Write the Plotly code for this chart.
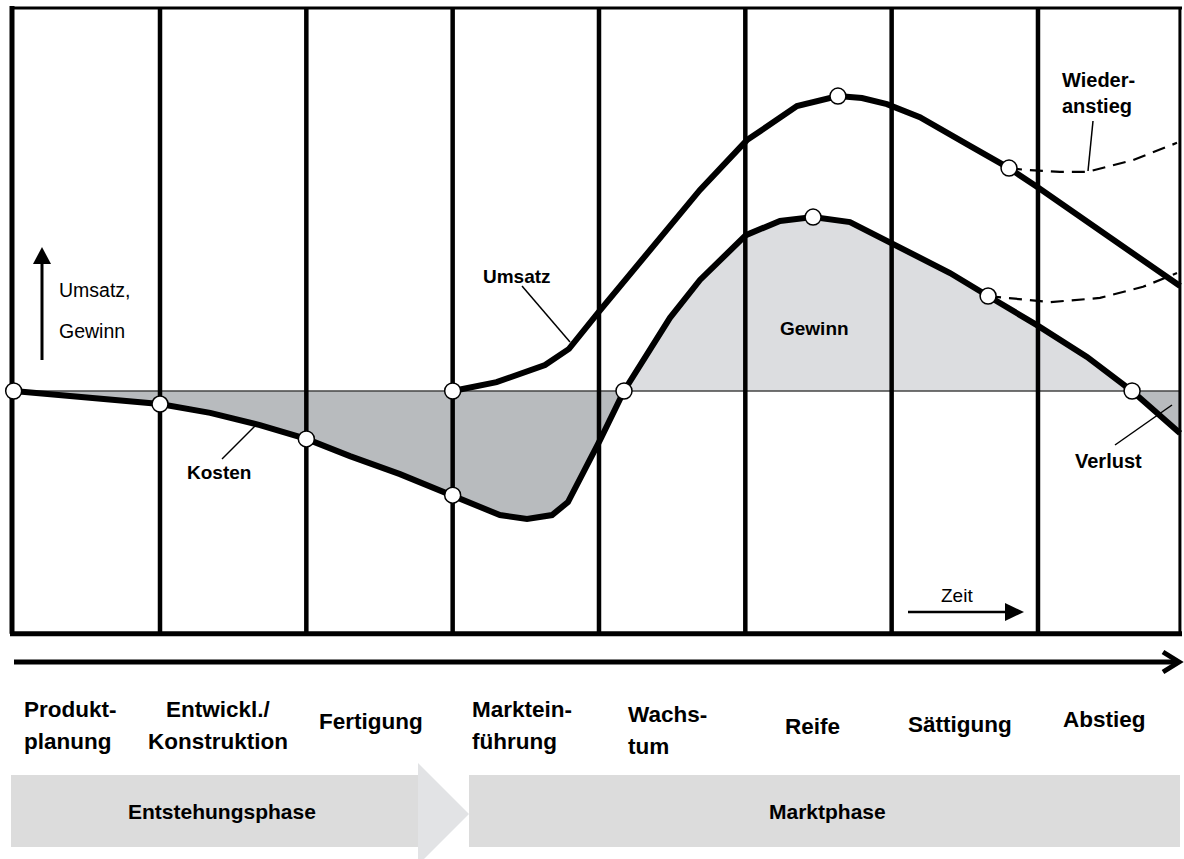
import plotly.graph_objects as go
import numpy as np

# ---------------- data (x in phase units, y in relative value units) ----------------
phase_bounds = [0, 1, 2, 3, 4, 5, 6, 7]
right_edge = 7.97
y_top, y_bottom = 100.0, -63.4

stages = ["Produkt-<br>planung", "Entwickl./<br>Konstruktion", "Fertigung", "Marktein-<br>führung",
          "Wachs-<br>tum", "Reife", "Sättigung", "Abstieg"]
phases = ["Entstehungsphase", "Marktphase"]

# Kosten / Gewinn curve
gew_x = [0.0, 1.0, 1.343, 1.683, 2.0, 2.298, 2.64, 3.0, 3.323, 3.508, 3.679, 3.788, 3.904, 4.007,
         4.171, 4.30, 4.485, 4.69, 5.004, 5.237, 5.463, 5.715, 6.023, 6.399, 6.659, 6.993, 7.335,
         7.643, 7.971]
gew_y = [0.0, -3.4, -5.7, -8.9, -12.5, -17.0, -21.7, -27.2, -32.4, -33.4, -32.4, -29.0, -20.6, -12.8,
         0.0, 7.6, 19.1, 29.0, 40.7, 44.4, 45.4, 44.1, 38.1, 30.8, 24.8, 17.2, 8.9,
         0.0, -11.0]
gew_marks = [0, 1, 4, 7, 14, 20, 24, 27]

# Umsatz curve
ums_x = [3.0, 3.30, 3.631, 3.795, 3.993, 4.35, 4.69, 5.011, 5.353, 5.633, 5.797, 5.968, 6.193,
         6.535, 6.802, 6.993, 7.424, 7.971]
ums_y = [0.0, 2.3, 6.8, 11.0, 20.4, 36.8, 52.5, 65.5, 74.4, 77.0, 76.5, 74.9, 71.5,
         64.0, 58.2, 53.3, 42.0, 27.4]
ums_marks = [0, 9, 14]

# Wiederanstieg (dashed)
wu_x = [6.802, 6.925, 7.15, 7.335, 7.649, 7.95]
wu_y = [58.2, 57.7, 57.2, 57.2, 60.3, 64.8]
wg_x = [6.659, 6.788, 7.082, 7.424, 7.718, 7.95]
wg_y = [24.8, 24.3, 23.2, 24.3, 27.2, 30.8]

# ---------------- pixel helpers for decorations ----------------
def X(px):
    return (px - 13.67) / 146.33

def Y(py):
    return (391 - py) / 3.83

FONT = "Liberation Sans, Arial, sans-serif"
BLACK = "#000000"
LIGHT = "#dcdde0"
DARK = "#b8bbbe"

fig = go.Figure()

# fills
gx = np.array(gew_x); gy = np.array(gew_y)
i0 = 14; i1 = 27
fig.add_trace(go.Scatter(x=gx[:i0 + 1], y=gy[:i0 + 1], fill="tozeroy", fillcolor=DARK,
                         mode="none", hoverinfo="skip"))
fig.add_trace(go.Scatter(x=gx[i0:i1 + 1], y=gy[i0:i1 + 1], fill="tozeroy", fillcolor=LIGHT,
                         mode="none", hoverinfo="skip"))
fig.add_trace(go.Scatter(x=gx[i1:], y=gy[i1:], fill="tozeroy", fillcolor=DARK,
                         mode="none", hoverinfo="skip"))

def seg_trace(x0, y0, x1, y1, width, color=BLACK):
    fig.add_trace(go.Scatter(x=[x0, x1], y=[y0, y1], mode="lines",
                             line=dict(color=color, width=width), hoverinfo="skip"))

# zero line (above fills, below curves)
seg_trace(0, 0, right_edge, 0, 1.5, "#444")
# vertical phase lines
for b in phase_bounds[1:]:
    seg_trace(b, y_bottom, b, y_top, 4.5)
# frame
seg_trace(X(12), y_bottom, X(12), Y(6), 5)
seg_trace(X(10), y_top, X(1182), y_top, 3)
seg_trace(X(10), y_bottom, X(1182), y_bottom, 5)
seg_trace(right_edge, y_bottom, right_edge, y_top, 3)

shapes = []
# bottom bands
band_col = "#dcdcdc"
shapes.append(dict(type="rect", x0=X(11), x1=X(418), y0=Y(847), y1=Y(775), fillcolor=band_col, line_width=0, layer="below"))
shapes.append(dict(type="path", path=f"M {X(418)},{Y(763)} L {X(469)},{Y(814)} L {X(418)},{Y(865)} Z",
                   fillcolor="#e2e3e5", line_width=0, layer="below"))
shapes.append(dict(type="rect", x0=X(469), x1=X(1180), y0=Y(847), y1=Y(775), fillcolor=band_col, line_width=0, layer="below"))

# big time arrow
shapes.append(dict(type="line", x0=X(14), x1=X(1177), y0=Y(662), y1=Y(662), line=dict(color=BLACK, width=5)))
shapes.append(dict(type="path", path=f"M {X(1163)},{Y(652)} L {X(1179)},{Y(662)} L {X(1163)},{Y(672)}",
                   line=dict(color=BLACK, width=5)))

# Umsatz,Gewinn axis arrow
shapes.append(dict(type="line", x0=X(42), x1=X(42), y0=Y(360), y1=Y(262), line=dict(color=BLACK, width=3)))
shapes.append(dict(type="path", path=f"M {X(33)},{Y(264)} L {X(42)},{Y(247)} L {X(51)},{Y(264)} Z",
                   fillcolor=BLACK, line_width=0))
# Zeit arrow
shapes.append(dict(type="line", x0=X(908), x1=X(1008), y0=Y(612), y1=Y(612), line=dict(color=BLACK, width=2.5)))
shapes.append(dict(type="path", path=f"M {X(1005)},{Y(603)} L {X(1024)},{Y(612)} L {X(1005)},{Y(621)} Z",
                   fillcolor=BLACK, line_width=0))

# leader lines
for (a, b, c, d) in [(522, 286, 570, 342), (222, 459, 255, 426), (1115, 445, 1172, 405), (1093, 121, 1088, 171)]:
    shapes.append(dict(type="line", x0=X(a), y0=Y(b), x1=X(c), y1=Y(d), line=dict(color=BLACK, width=1.5)))

# curves
fig.add_trace(go.Scatter(x=wu_x, y=wu_y, mode="lines", line=dict(color=BLACK, width=2.2, dash="13px,8px"), hoverinfo="skip"))
fig.add_trace(go.Scatter(x=wg_x, y=wg_y, mode="lines", line=dict(color=BLACK, width=2.2, dash="13px,8px"), hoverinfo="skip"))
fig.add_trace(go.Scatter(x=gew_x, y=gew_y, mode="lines", line=dict(color=BLACK, width=6), hoverinfo="skip"))
fig.add_trace(go.Scatter(x=ums_x, y=ums_y, mode="lines", line=dict(color=BLACK, width=6), hoverinfo="skip"))
# circle markers
mx = [gew_x[i] for i in gew_marks] + [ums_x[i] for i in ums_marks]
my = [gew_y[i] for i in gew_marks] + [ums_y[i] for i in ums_marks]
fig.add_trace(go.Scatter(x=mx, y=my, mode="markers", cliponaxis=False,
                         marker=dict(size=16, color="white", line=dict(color=BLACK, width=1.5)), hoverinfo="skip"))

ann = []
def txt(s, px, py, size=19, bold=True, xanchor="center"):
    t = f"<b>{s}</b>" if bold else s
    ann.append(dict(x=X(px), y=Y(py), text=t, showarrow=False, xanchor=xanchor, yanchor="middle",
                    font=dict(family=FONT, size=size, color=BLACK)))

# curve labels
txt("Umsatz", 517, 276)
txt("Kosten", 219, 472)
txt("Gewinn", 814, 328)
txt("Verlust", 1108, 461, size=20)
txt("Wieder-", 1060, 80, size=20, xanchor="left")
txt("anstieg", 1060, 106, size=20, xanchor="left")
txt("Umsatz,", 57, 290, size=19.5, bold=False, xanchor="left")
txt("Gewinn", 57, 331, size=19.5, bold=False, xanchor="left")
txt("Zeit", 957, 595, size=19, bold=False)

# stage labels
stage_pos = [(22, 709, "left"), (218, 709, "center"), (371, 721, "center"), (470, 709, "left"),
             (626, 714, "left"), (812, 726, "center"), (960, 724, "center"), (1104, 719, "center")]
for s, (px, py, xa) in zip(stages, stage_pos):
    parts = s.split("<br>")
    txt(parts[0], px, py, size=22.5, xanchor=xa)
    if len(parts) > 1:
        txt(parts[1], px, py + 32, size=22.5, xanchor=xa)

txt(phases[0], 222, 811, size=21)
txt(phases[1], 827, 811, size=21)

fig.update_layout(
    width=1184, height=859, autosize=False,
    margin=dict(l=0, r=0, t=0, b=0, pad=0),
    paper_bgcolor="white", plot_bgcolor="white",
    showlegend=False, hovermode=False,
    xaxis=dict(range=[X(0), X(1184)], visible=False, fixedrange=True),
    yaxis=dict(range=[Y(859), Y(0)], visible=False, fixedrange=True),
    shapes=shapes, annotations=ann,
)

fig.write_html("out.html", config={"displayModeBar": False},
               post_script="document.body.style.margin='0px';document.body.style.overflow='hidden';")
